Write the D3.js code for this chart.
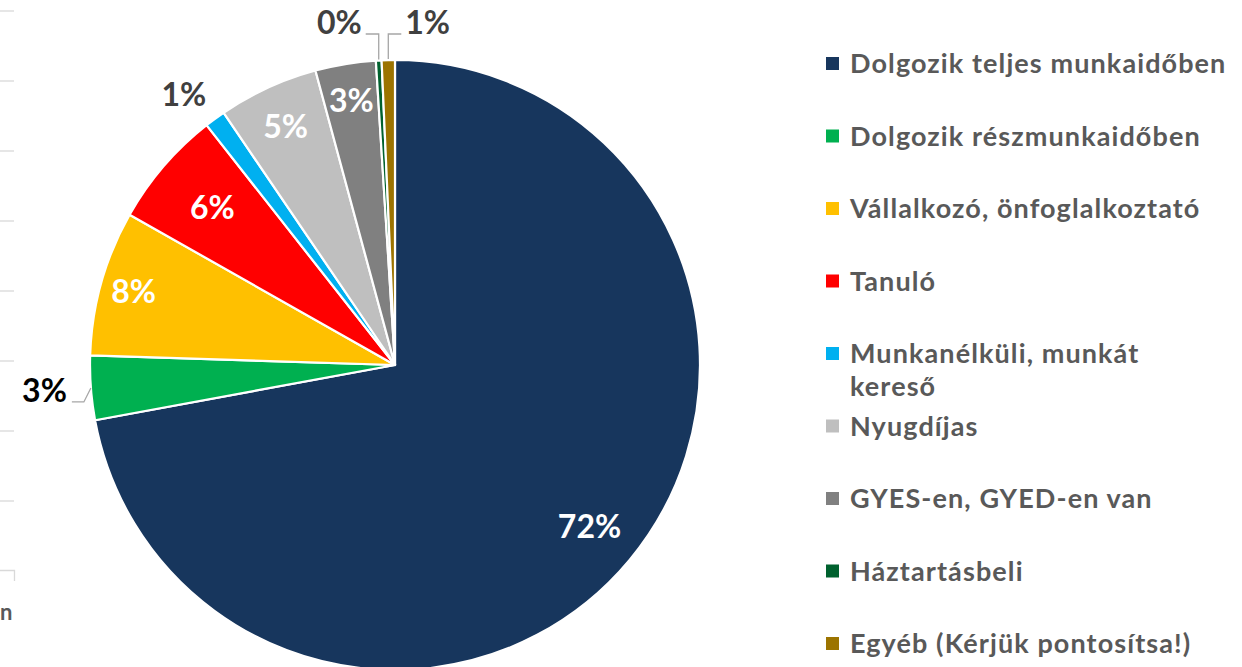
<!DOCTYPE html>
<html><head><meta charset="utf-8">
<script src="https://cdn.jsdelivr.net/npm/d3@7"></script>
<style>
html,body{margin:0;padding:0;background:#fff;overflow:hidden;}
svg{display:block;font-family:Lato,"Open Sans",sans-serif;font-weight:700;}
</style></head>
<body>
<svg id="chart" width="1242" height="667"></svg>
<script>
// ---- data ----
const categories = [
  "Dolgozik teljes munkaidőben",
  "Dolgozik részmunkaidőben",
  "Vállalkozó, önfoglalkoztató",
  "Tanuló",
  "Munkanélküli, munkát kereső",
  "Nyugdíjas",
  "GYES-en, GYED-en van",
  "Háztartásbeli",
  "Egyéb (Kérjük pontosítsa!)"
];
const values = [72.1, 3.4, 7.7, 6.2, 1.1, 5.3, 3.2, 0.3, 0.7];
const colors = ["#17365D", "#00B050", "#FFC000", "#FF0000", "#00B0F0", "#BFBFBF", "#808080", "#00612E", "#9C7400"];
const legendLines = [
  ["Dolgozik teljes munkaidőben"],
  ["Dolgozik részmunkaidőben"],
  ["Vállalkozó, önfoglalkoztató"],
  ["Tanuló"],
  ["Munkanélküli, munkát", "kereső"],
  ["Nyugdíjas"],
  ["GYES-en, GYED-en van"],
  ["Háztartásbeli"],
  ["Egyéb (Kérjük pontosítsa!)"]
];

// ---- layout ----
const cx = 395, cy = 365, R = 305;
const insideFactor = {0: 0.83, 2: 0.89, 3: 0.79, 5: 0.86, 6: 0.88};
const labelSize = 32;
const svg = d3.select("#chart");

// left cropped neighbour chart remnants
const gridY = d3.range(8).map(k => 11 + 70 * k);
svg.selectAll("line.grid").data(gridY).enter().append("line")
  .attr("x1", 0).attr("x2", 14).attr("y1", d => d).attr("y2", d => d)
  .attr("stroke", "#d9d9d9").attr("stroke-width", 1.3);
svg.append("path").attr("d", "M0,570.5H14.5V581").attr("fill", "none")
  .attr("stroke", "#d9d9d9").attr("stroke-width", 1.3);
svg.append("text").attr("x", 0).attr("y", 620).attr("text-anchor", "start")
  .attr("font-size", 22).attr("fill", "#595959").text("n");

// pie
const pie = d3.pie().sort(null).value(d => d);
const arcs = pie(values);
const arc = d3.arc().innerRadius(0).outerRadius(R);
const g = svg.append("g").attr("transform", `translate(${cx},${cy})`);
g.selectAll("path.slice").data(arcs).enter().append("path")
  .attr("d", arc).attr("fill", (d, i) => colors[i])
  .attr("stroke", "#fff").attr("stroke-width", 2.2).attr("stroke-linejoin", "round");

const mid = d => (d.startAngle + d.endAngle) / 2;
const pt = (a, r) => [r * Math.sin(a), -r * Math.cos(a)];
const lbl = v => Math.round(v) + "%";

// inside labels
arcs.forEach((d, i) => {
  if (insideFactor[i] === undefined) return;
  const [x, y] = pt(mid(d), R * insideFactor[i]);
  g.append("text").attr("x", x).attr("y", y).attr("dy", "0.36em")
    .attr("text-anchor", "middle").attr("font-size", labelSize).attr("fill", "#fff")
    .text(lbl(values[i]));
});

// outside labels
const leader = "#a6a6a6";
{
  const d = arcs[1];
  const [x0, y0] = pt(mid(d), R);
  const y1 = y0 + 14, x1 = x0 - 7, x2 = x1 - 12;
  g.append("path").attr("d", `M${x0},${y0}L${x1},${y1}H${x2}`)
    .attr("fill", "none").attr("stroke", leader).attr("stroke-width", 1.3);
  g.append("text").attr("x", x2 - 5).attr("y", y1).attr("text-anchor", "end")
    .attr("font-size", labelSize).attr("fill", "#000").text(lbl(values[1]));
}
{
  const d = arcs[4];
  const [x, y] = pt(mid(d), R * 1.1);
  g.append("text").attr("x", x - 13).attr("y", y).attr("dy", "0.36em")
    .attr("text-anchor", "middle").attr("font-size", labelSize).attr("fill", "#404040").text(lbl(values[4]));
}
[[7, -1], [8, 1]].forEach(([i, dir]) => {
  const d = arcs[i];
  const [x0, y0] = pt(mid(d), R);
  const yTop = 34 - cy;
  const x2 = x0 + dir * 13;
  g.append("path").attr("d", `M${x0},${y0 - 1}V${yTop}H${x2}`)
    .attr("fill", "none").attr("stroke", leader).attr("stroke-width", 1.3);
  g.append("text").attr("x", x2 + dir * 4).attr("y", yTop)
    .attr("text-anchor", dir < 0 ? "end" : "start")
    .attr("font-size", labelSize).attr("fill", "#404040").text(lbl(values[i]));
});

// legend
const lg = svg.append("g");
const rowBase = i => 73 + i * 72.5;
categories.forEach((c, i) => {
  const b = rowBase(i);
  lg.append("rect").attr("x", 826).attr("y", b - 16).attr("width", 13).attr("height", 13)
    .attr("fill", colors[i]);
  legendLines[i].forEach((ln, k) => {
    lg.append("text").attr("x", 850).attr("y", b + k * 33)
      .attr("font-size", 27).attr("letter-spacing", 1.1).attr("fill", "#595959").text(ln);
  });
});
</script>
</body></html>
